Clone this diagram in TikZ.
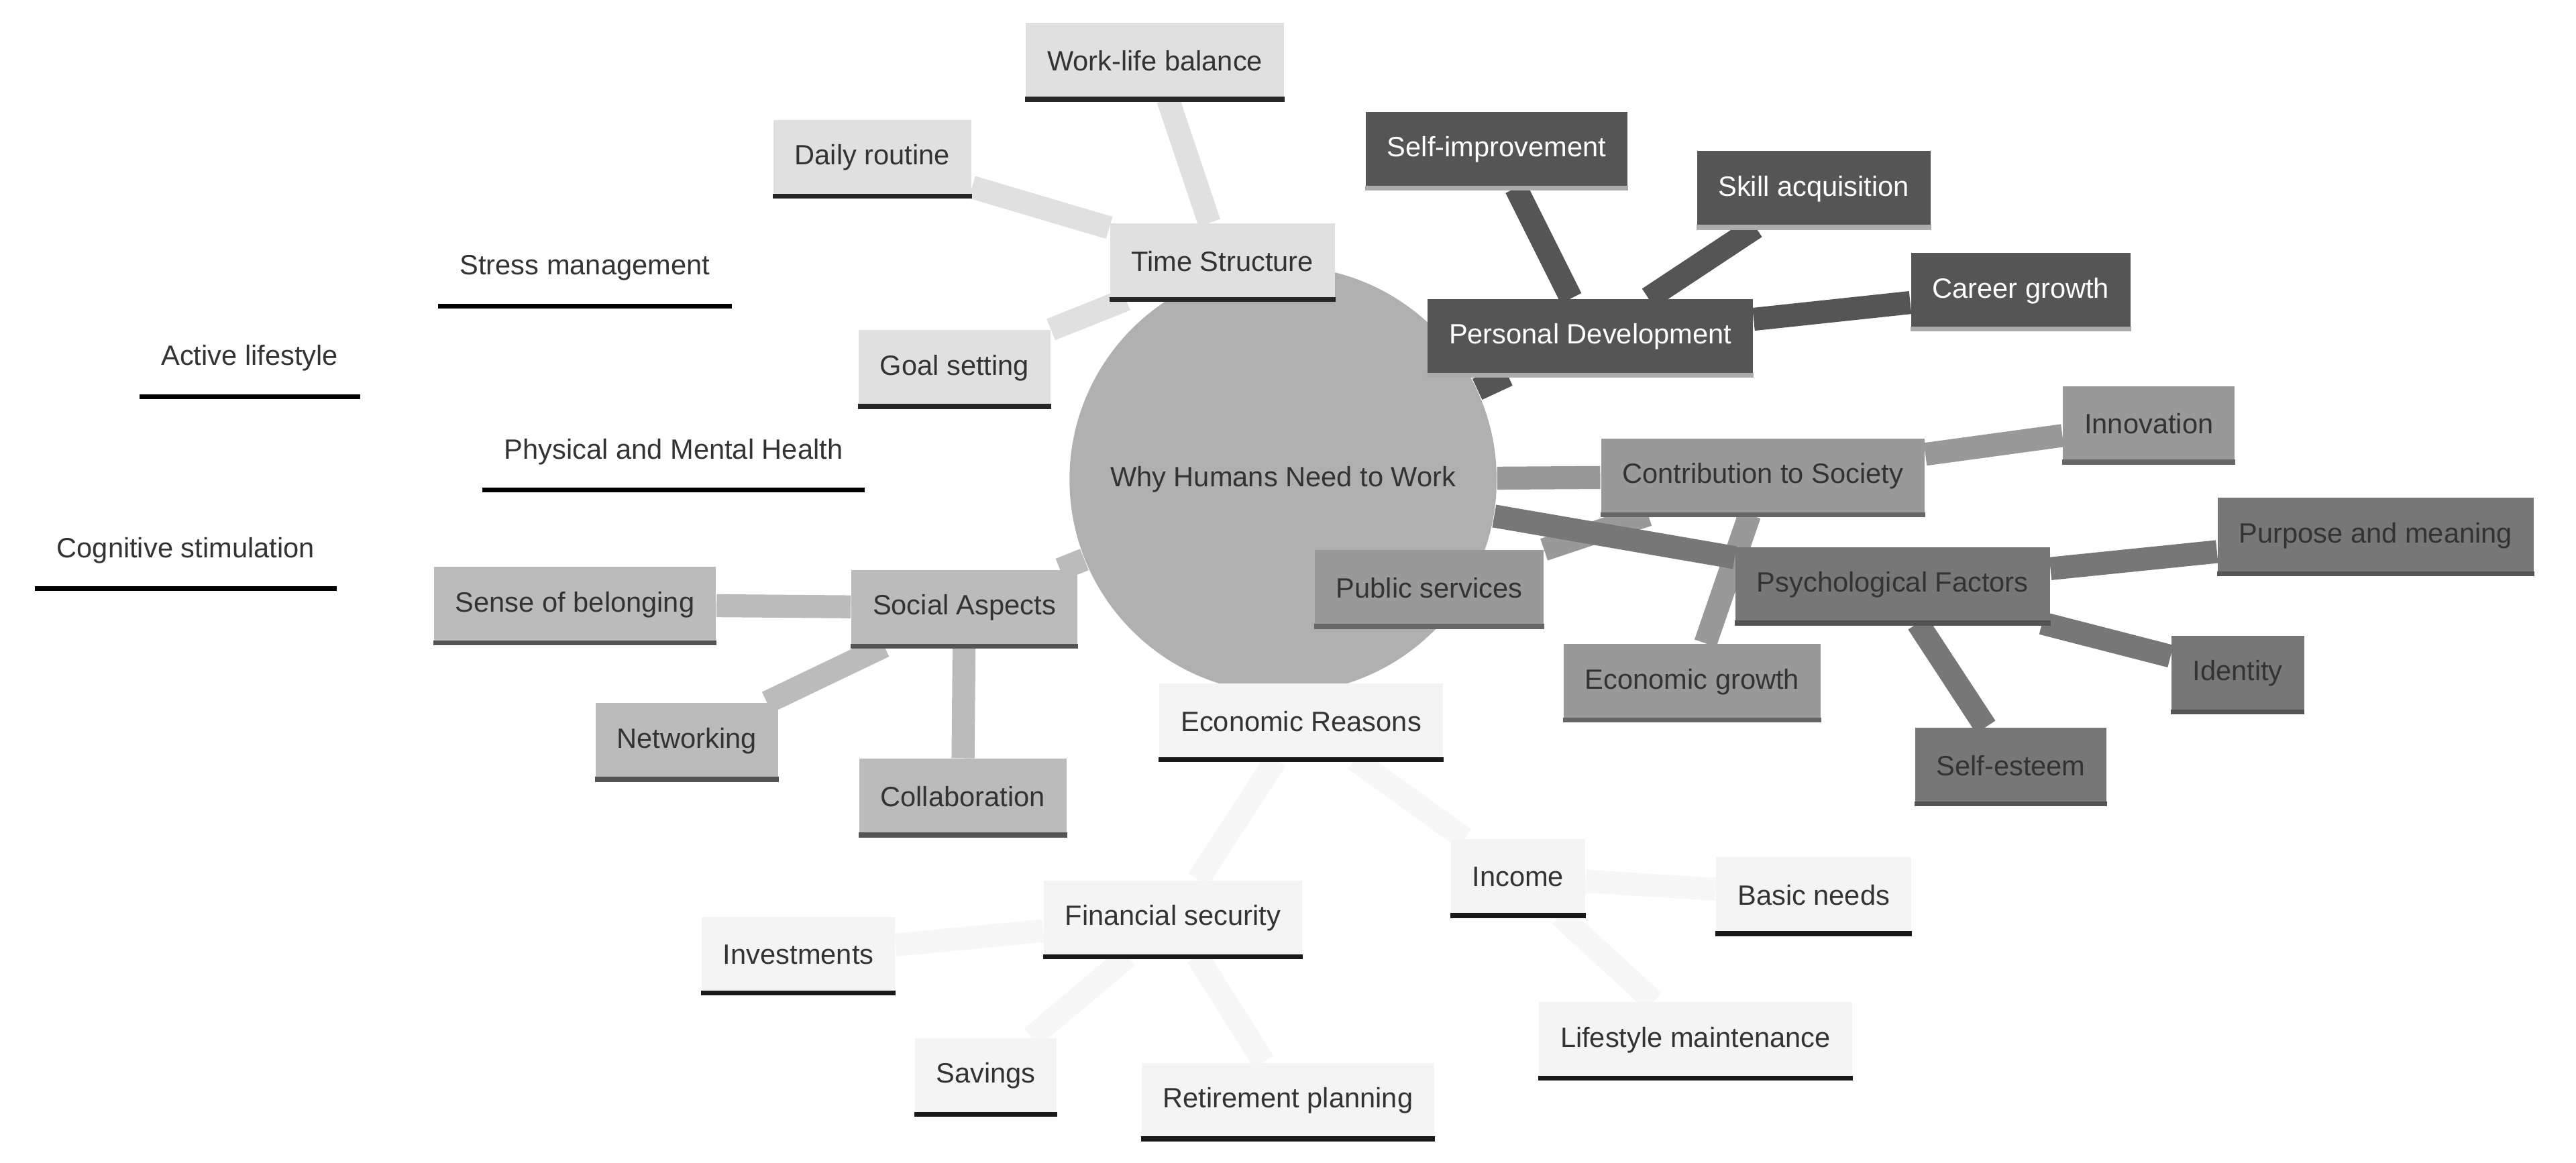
\documentclass[tikz,border=0pt]{standalone}
\usepackage{fontspec}
\setmainfont{Liberation Sans}
\usetikzlibrary{backgrounds}
\definecolor{cT}{HTML}{E0E0E0}\definecolor{cP}{HTML}{555555}
\definecolor{cC}{HTML}{999999}\definecolor{cY}{HTML}{777777}
\definecolor{cS}{HTML}{BBBBBB}\definecolor{cE}{HTML}{F4F4F4}
\definecolor{tx}{HTML}{333333}
\begin{document}
\begin{tikzpicture}[x=0.5pt,y=-0.5pt,
  every node/.style={font=\fontsize{8.5}{10}\selectfont,text=tx},
  bx/.style 2 args={fill=#1,minimum height=23pt,inner xsep=6.5pt,
    append after command={(\tikzlastnode.south west) edge[draw=#2,line width=1.5pt] (\tikzlastnode.south east)}},
  bT/.style={bx={cT}{black!85}},
  bP/.style={bx={cP}{black!33},text=white},
  bC/.style={bx={cC}{black!60}},
  bY/.style={bx={cY}{black!67}},
  bS/.style={bx={cS}{black!67}},
  bE/.style={bx={cE}{black!90}},
  bH/.style={bx={white}{black}},
  ln/.style={line width=7pt}]
\useasboundingbox (0,0) rectangle (1568,708);
\node[circle,fill=black!31,minimum size=130pt] (root) at (781,292) {Why Humans Need to Work};
\node[bT] (ts) at (744,159) {Time Structure};
\node[bT] (wl) at (703,37) {Work-life balance};
\node[bT] (dr) at (531,96) {Daily routine};
\node[bT] (gs) at (581,224) {Goal setting};
\node[bP] (pd) at (968,205) {Personal Development};
\node[bP] (si) at (911,91) {Self-improvement};
\node[bP] (sk) at (1104,115) {Skill acquisition};
\node[bP] (cg) at (1230,177) {Career growth};
\node[bC] (cs) at (1073,290) {Contribution to Society};
\node[bC] (in) at (1308,258) {Innovation};
\node[bC] (ps) at (870,358) {Public services};
\node[bC] (eg) at (1030,415) {Economic growth};
\node[bY] (pf) at (1152,356) {Psychological Factors};
\node[bY] (pm) at (1446,326) {Purpose and meaning};
\node[bY] (id) at (1362,410) {Identity};
\node[bY] (se) at (1224,466) {Self-esteem};
\node[bS] (sa) at (587,370) {Social Aspects};
\node[bS] (sb) at (350,368) {Sense of belonging};
\node[bS] (nw) at (418,451) {Networking};
\node[bS] (co) at (586,485) {Collaboration};
\node[bE] (er) at (792,439) {Economic Reasons};
\node[bE] (ic) at (924,534) {Income};
\node[bE] (bn) at (1104,545) {Basic needs};
\node[bE] (lm) at (1032,633) {Lifestyle maintenance};
\node[bE] (fs) at (714,559) {Financial security};
\node[bE] (iv) at (486,581) {Investments};
\node[bE] (sv) at (600,655) {Savings};
\node[bE] (rp) at (784,670) {Retirement planning};
\node[bH] (ph) at (410,275) {Physical and Mental Health};
\node[bH] (sm) at (356,163) {Stress management};
\node[bH] (al) at (152,218) {Active lifestyle};
\node[bH] (cst) at (113,335) {Cognitive stimulation};
\begin{pgfonlayer}{background}
\fill[white] (0,0) rectangle (1568,708);
\draw[ln,cT] (root)--(ts) (ts)--(wl) (ts)--(dr) (ts)--(gs);
\draw[ln,cP] (root)--(pd) (pd)--(si) (pd)--(sk) (pd)--(cg);
\draw[ln,cC] (root)--(cs) (cs)--(in) (cs)--(ps) (cs)--(eg);
\draw[ln,cY] (root)--(pf) (pf)--(pm) (pf)--(id) (pf)--(se);
\draw[ln,cS] (root)--(sa) (sa)--(sb) (sa)--(nw) (sa)--(co);
\draw[ln,cE!70!white] (root)--(er) (er)--(ic) (ic)--(bn) (ic)--(lm) (er)--(fs) (fs)--(iv) (fs)--(sv) (fs)--(rp);
\end{pgfonlayer}
\end{tikzpicture}
\end{document}
